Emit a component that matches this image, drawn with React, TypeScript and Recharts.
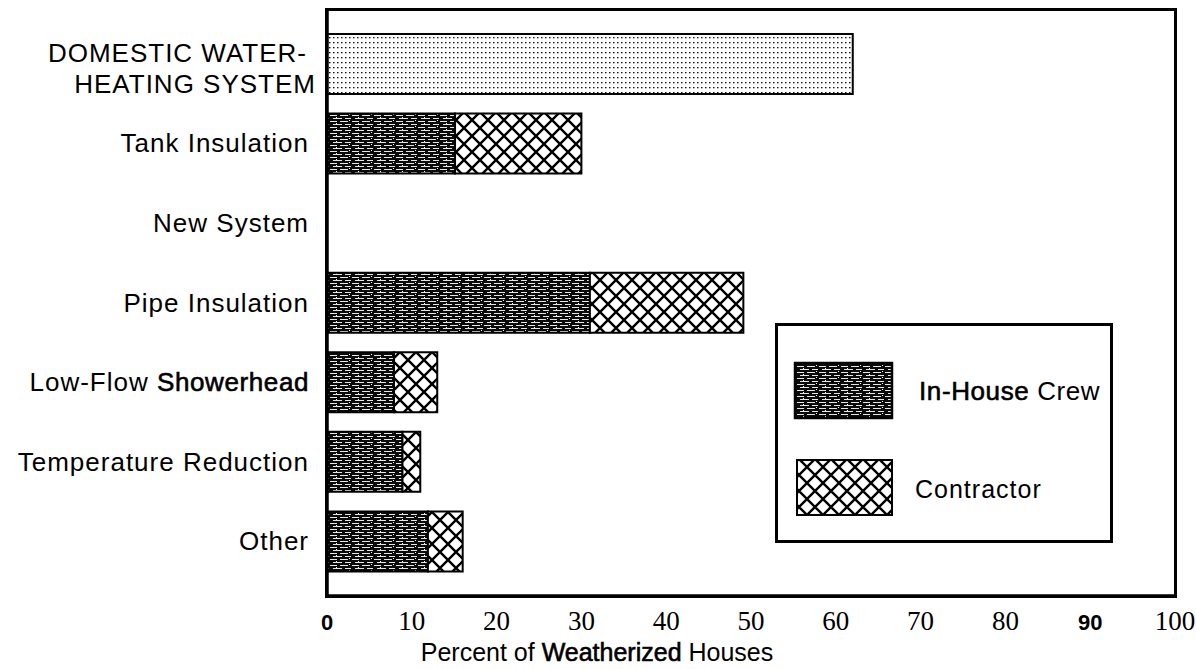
import React from 'react';
import { BarChart, Bar, XAxis, YAxis, Legend } from 'recharts';

const categories = [
  'DOMESTIC WATER-HEATING SYSTEM',
  'Tank Insulation',
  'New System',
  'Pipe Insulation',
  'Low-Flow Showerhead',
  'Temperature Reduction',
  'Other',
];
const systemTotal = [62, 0, 0, 0, 0, 0, 0];
const inHouseCrew = [0, 15.1, 0, 31, 7.9, 8.9, 11.9];
const contractor = [0, 14.9, 0, 18.1, 5.1, 2.1, 4.1];
const xTicks = [0, 10, 20, 30, 40, 50, 60, 70, 80, 90, 100];

const data = categories.map((name, i) => ({
  name,
  total: systemTotal[i],
  inHouse: inHouseCrew[i],
  contractor: contractor[i],
}));

const SANS = '"Liberation Sans", Arial, sans-serif';
const SERIF = '"Liberation Serif", "Times New Roman", serif';
const PLOT_LEFT = 327;
const PLOT_TOP = 10;
const PLOT_RIGHT = 1175;
const PLOT_BOTTOM = 596;
const FRAME_W = 3.5;

const heavy = { stroke: '#000', strokeWidth: 0.6 };

const YTick = (props: any) => {
  const { y, payload } = props;
  const v: string = payload.value;
  const common = { fontFamily: SANS, fontSize: 26, letterSpacing: 1, fill: '#000', textAnchor: 'end' as const };
  if (v.startsWith('DOMESTIC')) {
    return (
      <g>
        <text {...common} x={PLOT_LEFT - 20} y={y - 2}>DOMESTIC  WATER-</text>
        <text {...common} x={PLOT_LEFT - 11} y={y + 29}>HEATING  SYSTEM</text>
      </g>
    );
  }
  if (v === 'Low-Flow Showerhead') {
    return (
      <text {...common} x={PLOT_LEFT - 18} y={y + 9}>
        Low-Flow <tspan {...heavy} letterSpacing={0.6}>Showerhead</tspan>
      </text>
    );
  }
  return (
    <text {...common} x={PLOT_LEFT - 18} y={y + 9}>
      {v === 'Tank Insulation' ? 'Tank  Insulation' : v}
    </text>
  );
};

const XTick = (props: any) => {
  const { x, payload } = props;
  const v = payload.value;
  const bold = v === 0 || v === 90;
  return (
    <text
      x={x}
      y={630}
      textAnchor="middle"
      fontFamily={bold ? SANS : SERIF}
      fontWeight={bold ? 'bold' : 'normal'}
      fontSize={bold ? 22 : 27}
      fill="#000"
    >
      {v}
    </text>
  );
};

const TitleLabel = () => (
  <text x={597} y={661} textAnchor="middle" fontFamily={SANS} fontSize={25} fill="#000">
    Percent of <tspan {...heavy}>Weatherized</tspan> Houses
  </text>
);

const LegendBox = () => (
  <svg width={338} height={220} style={{ display: 'block' }}>
    <rect x={1.5} y={1.5} width={335} height={217} fill="#fff" stroke="#000" strokeWidth={3} />
    <rect x={20} y={40} width={97} height={55} fill="url(#inHousePat)" stroke="#000" strokeWidth={2.5} />
    <text x={144} y={77} fontFamily={SANS} fontSize={26} letterSpacing={0.6} fill="#000">
      <tspan {...heavy}>In-House</tspan> Crew
    </text>
    <rect x={22} y={137} width={95} height={55} fill="url(#crossPat)" stroke="#000" strokeWidth={2} />
    <text x={140} y={175} fontFamily={SANS} fontSize={25} letterSpacing={1} fill="#000">
      Contractor
    </text>
  </svg>
);

const frameLine = { stroke: '#000', strokeWidth: FRAME_W };

export default function App() {
  return (
    <div style={{ position: 'absolute', left: 0, top: 0, width: 1196, height: 669, background: '#fff' }}>
      <BarChart
        width={1196}
        height={669}
        data={data}
        layout="vertical"
        margin={{ top: PLOT_TOP, right: 1196 - PLOT_RIGHT, bottom: 0, left: 0 }}
        barSize={60}
      >
        <defs>
          <pattern id="dotPat" patternUnits="userSpaceOnUse" width={4} height={5}>
            <rect width={4} height={5} fill="#fff" />
            <rect x={1} y={2} width={1.5} height={1.3} fill="#111" />
          </pattern>
          <pattern id="inHousePat" patternUnits="userSpaceOnUse" width={22} height={6}>
            <rect width={22} height={6} fill="#0a0a0a" />
            <path d="M0 1.5 H7 M10 1.5 H18 M3 4.5 H12 M15 4.5 H21" stroke="#fff" strokeWidth={0.9} />
            <rect x={6} y={3} width={1} height={1} fill="#fff" />
            <rect x={19} y={0} width={1} height={1} fill="#fff" />
          </pattern>
          <pattern id="crossPat" patternUnits="userSpaceOnUse" width={16} height={16}>
            <rect width={16} height={16} fill="#fff" />
            <path d="M0 0 L16 16 M16 0 L0 16" stroke="#000" strokeWidth={2.4} />
          </pattern>
        </defs>
        <XAxis
          type="number"
          domain={[0, 100]}
          ticks={xTicks}
          tickLine={false}
          axisLine={frameLine}
          height={669 - PLOT_BOTTOM}
          tick={<XTick />}
          interval={0}
          label={<TitleLabel />}
        />
        <YAxis
          type="category"
          dataKey="name"
          width={PLOT_LEFT}
          tickLine={false}
          axisLine={frameLine}
          tick={<YTick />}
          interval={0}
          padding={{ top: 14, bottom: 15 }}
        />
        <Legend
          layout="vertical"
          align="center"
          verticalAlign="middle"
          content={<LegendBox />}
          wrapperStyle={{ position: 'absolute', left: 775, top: 323, width: 338, height: 220 }}
        />
        <Bar dataKey="total" name="Domestic Water-Heating System" stackId="a" fill="url(#dotPat)" stroke="#000" strokeWidth={2} isAnimationActive={false} legendType="none" />
        <Bar dataKey="inHouse" name="In-House Crew" stackId="a" fill="url(#inHousePat)" stroke="#000" strokeWidth={2} isAnimationActive={false} />
        <Bar dataKey="contractor" name="Contractor" stackId="a" fill="url(#crossPat)" stroke="#000" strokeWidth={2} isAnimationActive={false} />
      </BarChart>
      <div
        style={{
          position: 'absolute',
          boxSizing: 'border-box',
          left: PLOT_LEFT - FRAME_W / 2,
          top: PLOT_TOP - FRAME_W / 2,
          width: PLOT_RIGHT - PLOT_LEFT + FRAME_W,
          height: PLOT_BOTTOM - PLOT_TOP + FRAME_W,
          border: `${FRAME_W}px solid #000`,
          pointerEvents: 'none',
        }}
      />
    </div>
  );
}
